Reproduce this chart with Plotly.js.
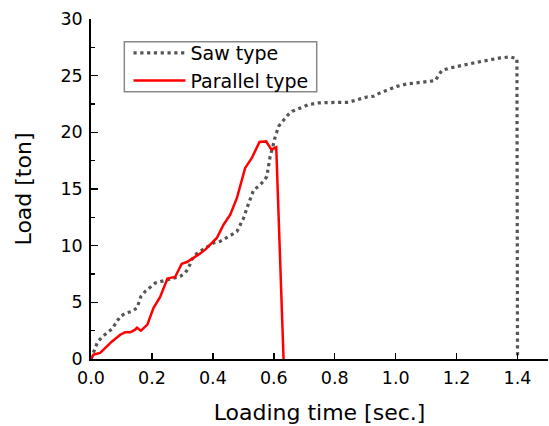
<!DOCTYPE html>
<html>
<head>
<meta charset="utf-8">
<script src="https://cdn.plot.ly/plotly-3.0.1.min.js"></script>
<style>html,body{margin:0;padding:0;background:#fff;}#chart{width:549px;height:426px;}</style>
</head>
<body>
<div id="chart"></div>
<script>
// Saw type (dotted)
var sawTime = [0, 0.014, 0.021, 0.036, 0.052, 0.069, 0.082, 0.096, 0.115, 0.134, 0.151, 0.159, 0.164, 0.178, 0.194, 0.211, 0.227, 0.249, 0.271, 0.293, 0.309, 0.32, 0.331, 0.342, 0.358, 0.375, 0.39, 0.402, 0.424, 0.446, 0.462, 0.479, 0.49, 0.501, 0.512, 0.523, 0.534, 0.55, 0.566, 0.577, 0.583, 0.588, 0.597, 0.605, 0.616, 0.632, 0.645, 0.66, 0.687, 0.714, 0.747, 0.785, 0.818, 0.845, 0.878, 0.906, 0.927, 0.949, 0.977, 1.004, 1.037, 1.07, 1.103, 1.13, 1.146, 1.152, 1.179, 1.212, 1.256, 1.3, 1.343, 1.376, 1.398, 1.4];
var sawLoad = [0, 0.97, 1.47, 1.94, 2.3, 2.65, 3.18, 3.76, 4.06, 4.2, 4.5, 5.08, 5.53, 5.97, 6.32, 6.7, 6.82, 7.0, 7.15, 7.29, 7.59, 8.03, 8.76, 9.2, 9.5, 9.8, 10.0, 10.24, 10.38, 10.68, 10.97, 11.26, 11.85, 12.44, 13.33, 14.2, 14.94, 15.23, 15.67, 16.1, 17.0, 17.88, 18.76, 19.65, 20.53, 21.1, 21.5, 21.85, 22.15, 22.44, 22.6, 22.65, 22.65, 22.65, 22.89, 23.12, 23.18, 23.48, 23.77, 24.06, 24.27, 24.36, 24.45, 24.56, 25.24, 25.47, 25.68, 25.89, 26.12, 26.35, 26.57, 26.65, 26.5, 0];

// Parallel type (solid red)
var parTime = [0, 0.008, 0.03, 0.047, 0.069, 0.096, 0.112, 0.129, 0.145, 0.151, 0.164, 0.185, 0.205, 0.227, 0.251, 0.276, 0.298, 0.315, 0.337, 0.356, 0.375, 0.391, 0.413, 0.435, 0.457, 0.479, 0.49, 0.506, 0.528, 0.553, 0.575, 0.592, 0.608, 0.632];
var parLoad = [0, 0.38, 0.53, 0.97, 1.55, 2.14, 2.35, 2.35, 2.59, 2.76, 2.5, 3.03, 4.5, 5.47, 7.09, 7.24, 8.41, 8.56, 8.91, 9.27, 9.65, 10.09, 10.68, 11.85, 12.74, 14.21, 15.38, 16.86, 17.74, 19.15, 19.2, 18.47, 18.68, 0];

var seriesNames = ['Saw type', 'Parallel type'];
var xTitle = 'Loading time [sec.]';
var yTitle = 'Load [ton]';

var FONT = '"DejaVu Sans", Verdana, sans-serif';

var traces = [
  {
    x: sawTime, y: sawLoad, name: seriesNames[0], type: 'scatter', mode: 'lines',
    line: {color: '#555555', width: 3.2, dash: '3.2px,3.6px'}
  },
  {
    x: parTime, y: parLoad, name: seriesNames[1], type: 'scatter', mode: 'lines',
    line: {color: '#ff0000', width: 2.5}
  }
];

var layout = {
  width: 549, height: 426,
  margin: {l: 91, r: 1, t: 19, b: 67},
  paper_bgcolor: '#ffffff', plot_bgcolor: '#ffffff',
  font: {family: FONT, color: '#000000'},
  showlegend: true,
  legend: {
    x: 0.082, y: 0.956, xanchor: 'left', yanchor: 'top',
    bgcolor: 'rgba(0,0,0,0)', borderwidth: 0,
    font: {family: FONT, size: 19, color: '#000000'},
    itemwidth: 52, tracegroupgap: 0
  },
  shapes: [
    // legend frame
    {type: 'rect', xref: 'paper', yref: 'paper', layer: 'below',
     x0: 0.0729, x1: 0.4939, y0: 0.7862, y1: 0.9332,
     line: {color: '#888888', width: 1.5}, fillcolor: '#ffffff'}
  ],
  xaxis: {
    range: [0, 1.5], dtick: 0.2, tick0: 0, tickformat: '.1f',
    ticks: 'inside', ticklen: 6, tickwidth: 1.5, tickcolor: '#000',
    ticklabelstandoff: 2,
    showline: true, linecolor: '#000', linewidth: 1.8,
    showgrid: false, zeroline: false,
    tickfont: {family: FONT, size: 17.5, color: '#000'},
    title: {text: xTitle, font: {family: FONT, size: 22, color: '#000'}, standoff: 18}
  },
  yaxis: {
    range: [0, 30], dtick: 5, tick0: 0,
    ticks: 'inside', ticklen: 7, tickwidth: 1.5, tickcolor: '#000',
    ticklabelstandoff: 3,
    minor: {dtick: 2.5, ticks: 'inside', ticklen: 4, tickwidth: 1.5, tickcolor: '#000', showgrid: false},
    showline: true, linecolor: '#000', linewidth: 1.8,
    showgrid: false, zeroline: false,
    tickfont: {family: FONT, size: 17.5, color: '#000'},
    title: {text: yTitle, font: {family: FONT, size: 22, color: '#000'}, standoff: 23}
  }
};

Plotly.newPlot('chart', traces, layout, {displayModeBar: false, staticPlot: true});
</script>
</body>
</html>
